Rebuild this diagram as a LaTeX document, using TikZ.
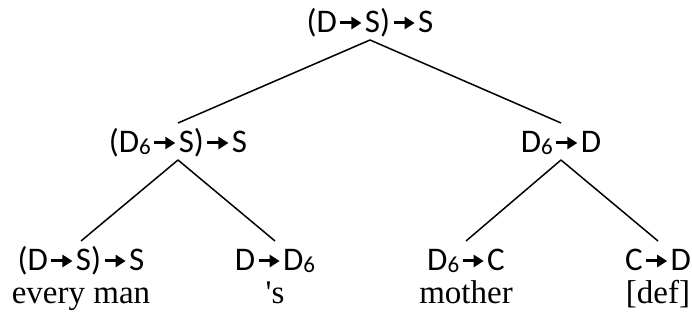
\documentclass[tikz,border=0pt]{standalone}
\usepackage{fontspec}
\setmainfont{Liberation Serif}
\newfontfamily\catfont{Carlito}
\newfontfamily\wordfont{Liberation Serif}
\usetikzlibrary{arrows.meta}

\newcommand{\rto}{\kern2pt\tikz[baseline=0pt]\draw[line width=3pt,-{Triangle[length=10pt,width=12pt]}] (0pt,10pt) -- (21pt,10pt);\kern2pt}
\newcommand{\Dsix}{D\raisebox{-1.5pt}{\fontsize{23}{23}\selectfont 6}}

\begin{document}
\begin{tikzpicture}[x=1pt,y=1pt,
    cat/.style={anchor=base,inner sep=0pt,outer sep=0pt,text height=30pt,text depth=7pt,
        font=\catfont\fontsize{33}{38}\selectfont},
    leaf/.style={cat,text depth=2pt},
    word/.style={anchor=base,inner sep=0pt,font=\wordfont\fontsize{33}{38}\selectfont},
    branch/.style={line width=1.5pt}]
\useasboundingbox (0,0) rectangle (692,326);

\node[cat] (top) at (370,293) {(D\rto S)\rto S};
\node[cat] (ql) at (178,173) {(\Dsix\rto S)\rto S};
\node[cat] (qr) at (561,173) {\Dsix\rto D};
\node[leaf] (em) at (81,55) {(D\rto S)\rto S};
\node[leaf] (poss) at (275,55) {D\rto\Dsix};
\node[leaf] (moth) at (466,55) {\Dsix\rto C};
\node[leaf] (def) at (658,55) {C\rto D};

\node[word] (w1) at (81,22) {every man};
\node[word] (w2) at (275,22) {'s};
\node[word] (w3) at (466,22) {mother};
\node[word] (w4) at (658,22) {[def]};

\draw[branch] (top.south) -- (ql.north);
\draw[branch] (top.south) -- (qr.north);
\draw[branch] (ql.south) -- (em.north);
\draw[branch] (ql.south) -- (poss.north);
\draw[branch] (qr.south) -- (moth.north);
\draw[branch] (qr.south) -- (def.north);
\end{tikzpicture}
\end{document}
